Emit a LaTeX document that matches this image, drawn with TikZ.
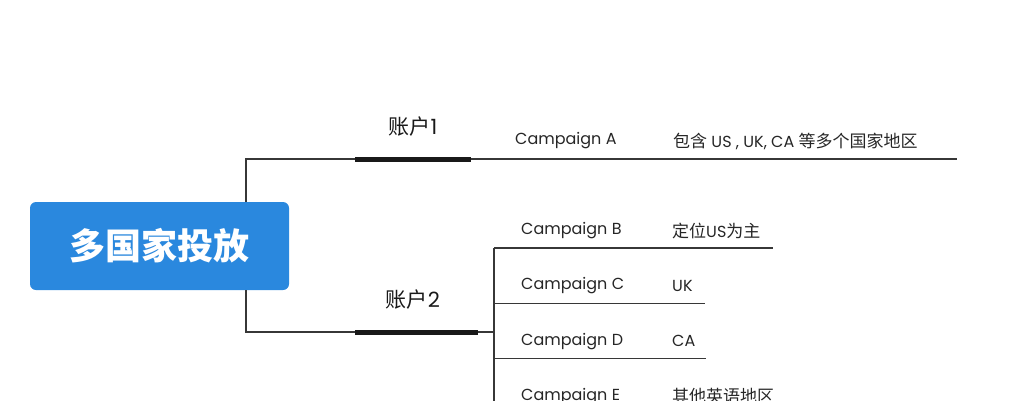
\documentclass[tikz,border=0pt]{standalone}
\usepackage{fontspec}
\setmainfont{Poppins}
\newfontfamily\cjk{Noto Sans CJK SC}
\usetikzlibrary{positioning}
\definecolor{rootblue}{RGB}{42,136,222}
\definecolor{linegray}{RGB}{55,55,55}
\tikzset{
  root/.style={fill=rootblue,rounded corners=6pt,minimum width=259pt,minimum height=88pt,inner sep=0pt,text=white,font=\fontsize{36}{40}\selectfont\cjk\bfseries},
  acct/.style={font=\fontsize{21}{24}\selectfont,inner sep=0pt,text=black!90},
  bar/.style={fill=black!90,inner sep=0pt,minimum height=5pt},
  camp/.style={font=\fontsize{16}{20}\selectfont,anchor=west,inner sep=0pt,text=black!85},
  link/.style={draw=linegray,line width=1.3pt}
}

\begin{document}
\begin{tikzpicture}[x=1pt,y=-1pt]
\useasboundingbox (0,0) rectangle (1032,400);
\clip (0,0) rectangle (1032,400);
\node[root] (root) at (159.5,246) {多国家投放};
\node[bar,minimum width=116pt] (bar1) at (413,159) {};
\node[bar,minimum width=123pt] (bar2) at (416.5,332) {};
\node[acct] (acc1) at (413,127) {{\cjk 账户}1};
\node[acct] (acc2) at (413,300) {{\cjk 账户}2};
\coordinate (fork) at (246,246);
\draw[link] (root.north -| fork) |- (bar1.west);
\draw[link] (root.south -| fork) |- (bar2.west);
\node[camp] (campA) at (515,141) {Campaign A};
\node[camp] (infoA) at (673,141) {{\cjk\fontsize{17}{20}\selectfont 包含} US , UK, CA {\cjk\fontsize{17}{20}\selectfont 等多个国家地区}};
\coordinate (endA) at (957,159);
\draw[link] (bar1.east) -- (endA);
\coordinate (spine) at (494,332);
\coordinate (spineTop) at (494,248);
\coordinate (spineEnd) at (494,420);
\draw[link] (bar2.east) -- (spine);
\draw[link] (spineTop) -- (spineEnd);
\foreach \c/\info/\len [count=\i] in {B/{{\cjk\fontsize{17}{20}\selectfont 定位}US{\cjk\fontsize{17}{20}\selectfont 为主}}/773,C/UK/705,D/CA/706,E/{{\cjk\fontsize{17}{20}\selectfont 其他英语地区}}/790}{
  \node[camp] (camp\c) at (521,{230.5+55.3*(\i-1)}) {Campaign \c};
  \node[camp] (info\c) at (672,{230.5+55.3*(\i-1)}) {\info};
  \coordinate (row\c) at (494,{248+55.3*(\i-1)});
  \coordinate (end\c) at (\len,{248+55.3*(\i-1)});
  \draw[link] (row\c) -- (end\c);
}
\end{tikzpicture}
\end{document}
